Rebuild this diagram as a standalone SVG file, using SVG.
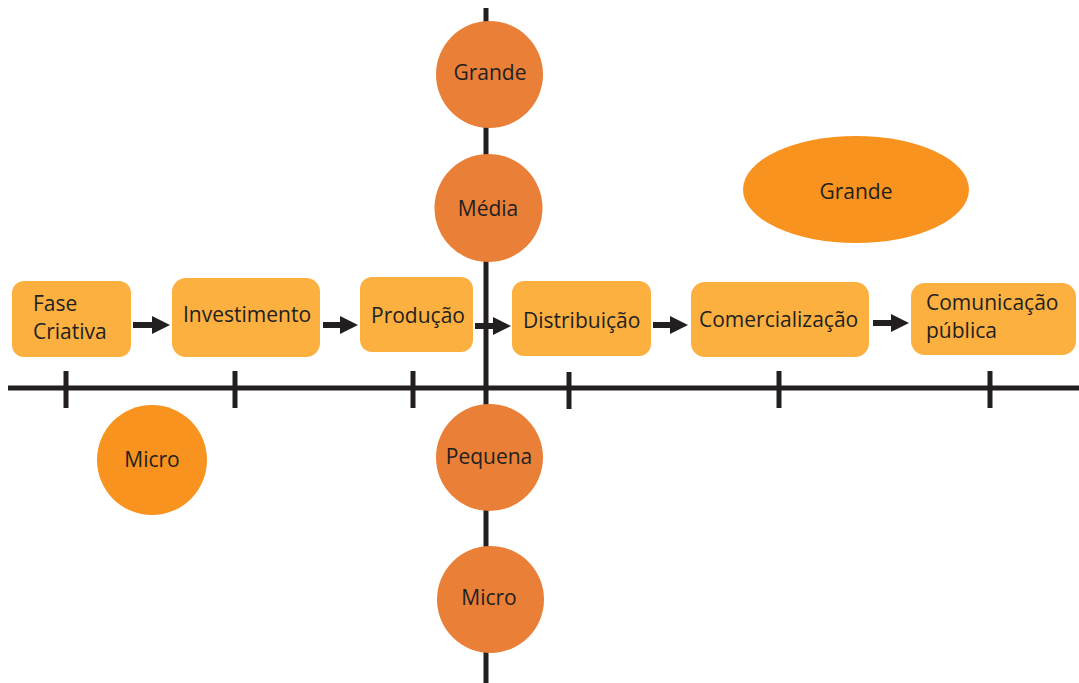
<svg xmlns="http://www.w3.org/2000/svg" width="1079" height="683" viewBox="0 0 1079 683">
<defs>
<style>
.ax{stroke:#231F20;stroke-width:5;fill:none}
.box{fill:#FBB040}
.c1{fill:#EA7F37}
.c2{fill:#F7931E}
.t{font-family:"Open Sans","Noto Sans",sans-serif;font-size:21px;fill:#231F20}
.m{text-anchor:middle}
.sh{stroke:#231F20;stroke-width:6}
.hd{fill:#231F20}
</style>
</defs>
<rect width="1079" height="683" fill="#fff"/>
<g id="axes">
<line class="ax" x1="8" y1="388" x2="1079" y2="388"/>
<line class="ax" x1="486" y1="8" x2="486" y2="683"/>
<line class="ax" x1="66" y1="371" x2="66" y2="408"/>
<line class="ax" x1="235" y1="371" x2="235" y2="408"/>
<line class="ax" x1="413" y1="371" x2="413" y2="408"/>
<line class="ax" x1="569" y1="372" x2="569" y2="409"/>
<line class="ax" x1="779" y1="371" x2="779" y2="408"/>
<line class="ax" x1="990" y1="371" x2="990" y2="408"/>
</g>
<g id="size-grande"><circle class="c1" cx="489.5" cy="74.5" r="53.5"/><text class="t m" x="490" y="80">Grande</text></g>
<g id="size-media"><circle class="c1" cx="488.5" cy="208" r="54"/><text class="t m" x="488" y="216">Média</text></g>
<g id="size-pequena"><circle class="c1" cx="489.5" cy="457.5" r="53.5"/><text class="t m" x="489" y="464">Pequena</text></g>
<g id="size-micro"><circle class="c1" cx="490.5" cy="599.5" r="53.5"/><text class="t m" x="489" y="605">Micro</text></g>
<g id="grande-ellipse"><ellipse class="c2" cx="856" cy="189.5" rx="113" ry="53.5"/><text class="t m" x="856" y="199">Grande</text></g>
<g id="micro-left"><circle class="c2" cx="152" cy="460" r="55"/><text class="t m" x="152" y="467">Micro</text></g>
<g id="fase-criativa"><rect class="box" x="12" y="281" width="119" height="76" rx="12"/><text class="t" x="33" y="311">Fase</text><text class="t" x="33" y="339">Criativa</text></g>
<g id="investimento"><rect class="box" x="172" y="278" width="148" height="79" rx="14"/><text class="t" x="183" y="322">Investimento</text></g>
<g id="producao"><rect class="box" x="360" y="277" width="113" height="75" rx="12"/><text class="t" x="371" y="323">Produção</text></g>
<g id="distribuicao"><rect class="box" x="512" y="281" width="139" height="75" rx="12"/><text class="t" x="523" y="328">Distribuição</text></g>
<g id="comercializacao"><rect class="box" x="691" y="282" width="178" height="75" rx="14"/><text class="t" x="699" y="327">Comercialização</text></g>
<g id="comunicacao"><rect class="box" x="911" y="283" width="165" height="72" rx="14"/><text class="t" x="926" y="310">Comunicação</text><text class="t" x="926" y="338">pública</text></g>
<g id="connectors">
<line class="sh" x1="133" y1="325" x2="155" y2="325"/><polygon class="hd" points="152,316 170,325 152,334"/>
<line class="sh" x1="323" y1="325" x2="343" y2="325"/><polygon class="hd" points="340,316 358,325 340,334"/>
<line class="sh" x1="475" y1="326" x2="496" y2="326"/><polygon class="hd" points="493,317 511,326 493,335"/>
<line class="sh" x1="653" y1="325" x2="673" y2="325"/><polygon class="hd" points="670,316 688,325 670,334"/>
<line class="sh" x1="873" y1="323" x2="894" y2="323"/><polygon class="hd" points="891,314 909,323 891,332"/>
</g>
</svg>
